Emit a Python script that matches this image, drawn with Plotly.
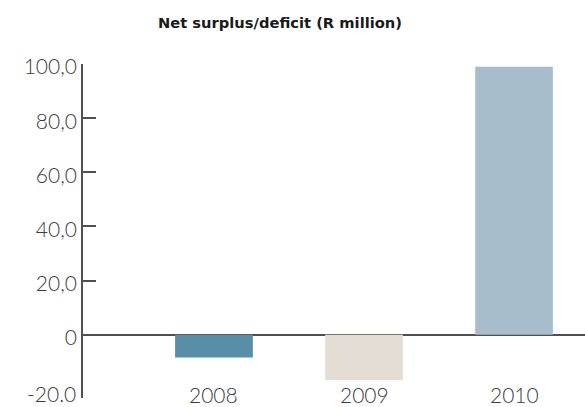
import plotly.graph_objects as go

# Net surplus/deficit per year, R million
years = ["2008", "2009", "2010"]
surplus = [-8.4, -16.8, 99.0]
bar_colors = ["#588ea8", "#e4ddd4", "#a8bdcb"]

# y-axis ticks (the lowest tick sits at the foot of the axis)
axis_bottom = -23.3
tick_vals = [axis_bottom, 0, 20, 40, 60, 80, 100]
tick_text = ["-20.0", "0", "20,0", "40,0", "60,0", "80,0", "100,0"]

fig = go.Figure(
    go.Bar(
        x=years,
        y=surplus,
        marker=dict(color=bar_colors, line=dict(width=0)),
        width=0.518,
    )
)

axis_color = "#505050"
label_font = dict(family="Lato", size=21, color="#3c3c3c", weight=300)

# the foot label is written separately so it stays inside the page
axis_labels = [""] + tick_text[1:]

fig.update_layout(
    width=585,
    height=407,
    margin=dict(l=83, r=0, t=64, b=9, autoexpand=False),
    paper_bgcolor="white",
    plot_bgcolor="white",
    showlegend=False,
    title=dict(
        text="Net surplus/deficit (R million)",
        x=280 / 585,
        xanchor="center",
        y=1 - 23 / 407,
        yanchor="middle",
        font=dict(family="DejaVu Sans", size=14.7, color="#1a1a1a", weight="bold"),
    ),
    xaxis=dict(
        type="category",
        range=[-0.873, 2.473],
        showticklabels=False,
        showline=False,
        showgrid=False,
        zeroline=False,
        ticks="",
        automargin=False,
    ),
    yaxis=dict(
        range=[axis_bottom - 0.05, 100],
        tickvals=tick_vals,
        ticktext=axis_labels,
        tickfont=label_font,
        ticklabelshift=3,
        automargin=False,
        ticks="inside",
        ticklen=13,
        tickwidth=1.6,
        tickcolor=axis_color,
        showline=True,
        linecolor=axis_color,
        linewidth=1.6,
        showgrid=False,
        zeroline=True,
        zerolinecolor=axis_color,
        zerolinewidth=1.6,
    ),
)

fig.add_annotation(
    x=0,
    xref="paper",
    y=axis_bottom,
    yref="y",
    text=tick_text[0],
    showarrow=False,
    xanchor="right",
    yanchor="middle",
    xshift=-5,
    yshift=4,
    font=label_font,
)

# year labels sit across the foot of the axis (category index positions)
for i, yr in enumerate(years):
    fig.add_annotation(
        x=i,
        xref="x",
        y=0,
        yref="paper",
        text=yr,
        showarrow=False,
        yanchor="middle",
        yshift=4,
        font=label_font,
    )

fig.write_html("out.html")
